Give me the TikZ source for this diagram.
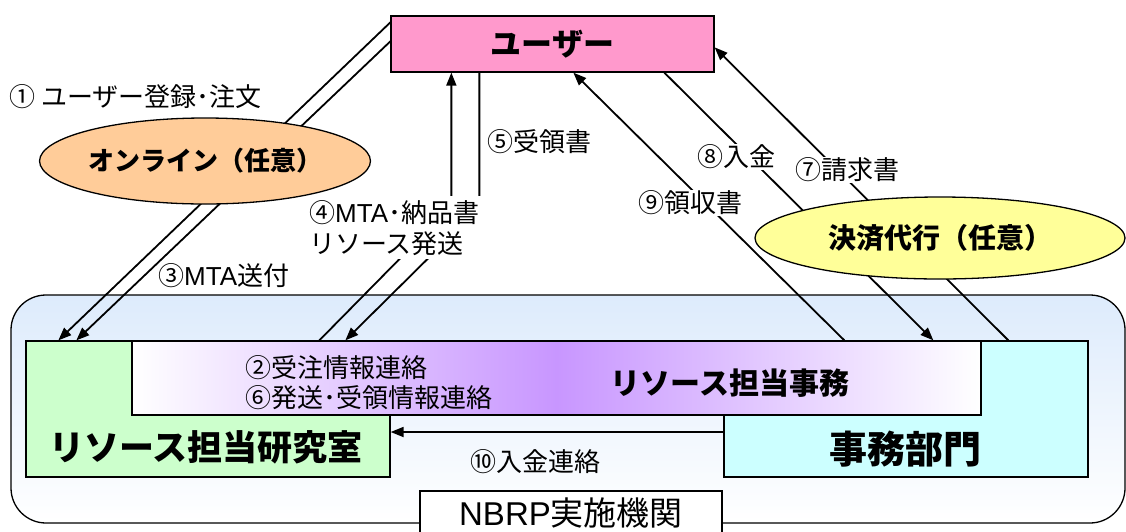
\documentclass[tikz,border=0pt]{standalone}
\usepackage{fontspec}
\setmainfont{Noto Sans CJK JP}
\newfontfamily\lat{Liberation Sans}
\usetikzlibrary{arrows.meta,shapes.geometric,calc}
\definecolor{userpink}{HTML}{FF99CC}
\definecolor{labgreen}{HTML}{CCFFCC}
\definecolor{offcyan}{HTML}{CCFFFF}
\definecolor{onorange}{HTML}{FFCC99}
\definecolor{payyellow}{HTML}{FFFF99}
\definecolor{jimpurple}{HTML}{C896FF}
\definecolor{conttop}{HTML}{DDEBFC}
\begin{document}
\begin{tikzpicture}[x=1pt,y=-1pt,
  box/.style={draw=black,line width=1.3pt,inner sep=0pt},
  arr/.style={line width=1.8pt,-{Triangle[length=13pt,width=10pt]}},
  lbl/.style={font=\fontsize{26}{31}\selectfont,inner sep=1pt},
  lblw/.style={lbl,fill=white},
  ttl/.style={font=\fontsize{#1}{#1}\selectfont\bfseries,inner sep=0pt}]
\useasboundingbox (0,0) rectangle (1126,531);
% container
\node[box,rounded corners=35pt,top color=conttop,bottom color=white,
      minimum width=1114pt,minimum height=228pt] (org) at (568,409) {};
% boxes
\node[box,fill=labgreen,minimum width=364pt,minimum height=136pt] (lab) at (208,409) {};
\node[box,fill=offcyan,minimum width=364pt,minimum height=136pt] (office) at (906,409) {};
\node[box,left color=white,right color=white,middle color=jimpurple,
      minimum width=849pt,minimum height=74pt] (jim) at (556.5,378) {};
\node[ttl=35] (labtxt) at (206,447) {リソース担当研究室};
\node[ttl=38] (offtxt) at (905,449) {事務部門};
\node[ttl=30] (jimtxt) at (730,383) {リソース担当事務};
\node[lbl,anchor=west,align=left,font=\fontsize{26}{30}\selectfont] (l26) at (244,383) {②受注情報連絡\\⑥発送･受領情報連絡};
\node[box,fill=white,minimum width=302pt,minimum height=44pt,
      font=\fontsize{33}{33}\selectfont] (nbrp) at (571,513) {{\lat NBRP}実施機関};
% user
\node[box,fill=userpink,minimum width=323pt,minimum height=56pt,
      ttl=31] (user) at (552.5,44) {ユーザー};
% connectors
\draw[arr] ([yshift=-7pt]user.north west) -- ([xshift=33pt]lab.north west);
\draw[arr] ([yshift=-26pt]user.north west) -- ([xshift=51pt]lab.north west);
\draw[arr] ([xshift=188pt]jim.north west) -- ++(132,-134) -- ([xshift=61pt]user.south west);
\draw[arr] ([xshift=89pt]user.south west) -- ++(0,135) -- ([xshift=214pt]jim.north west);
\draw[arr] ([xshift=713pt]jim.north west) -- ([xshift=183pt]user.south west);
\draw[arr] ([xshift=274pt]user.south west) -- ([xshift=802pt]jim.north west);
\draw[arr] ([xshift=285pt]office.north west) -- ([yshift=-32pt]user.north east);
\draw[arr] ([yshift=-23pt]office.west) -- ([yshift=-23pt]lab.east);
% ellipses
\node[ellipse,draw=black,line width=1.3pt,fill=onorange,minimum width=307pt,
      minimum height=86pt,inner sep=0pt,ttl=26] (online) at (205,161) {オンライン（任意）};
\node[ellipse,draw=black,line width=1.3pt,fill=payyellow,minimum width=370pt,
      minimum height=82pt,inner sep=0pt,ttl=28] (pay) at (940,238) {決済代行（任意）};
% labels
\node[lbl,anchor=west] (l1) at (8,97) {① ユーザー登録･注文};
\node[lbl,anchor=west] (l3) at (157,276) {③{\lat MTA}送付};
\node[lblw,anchor=north west,align=left,inner sep=4pt] (l4) at (305,196) {④{\lat MTA}･納品書\\リソース発送};
\node[lbl,anchor=west] (l5) at (486,142) {⑤受領書};
\node[lblw,anchor=west] (l8) at (696,157) {⑧入金};
\node[lblw,anchor=west] (l7) at (794,170) {⑦請求書};
\node[lblw,anchor=west] (l9) at (637,203) {⑨領収書};
\node[lbl,anchor=west] (l10) at (469,462) {⑩入金連絡};
\end{tikzpicture}
\end{document}
